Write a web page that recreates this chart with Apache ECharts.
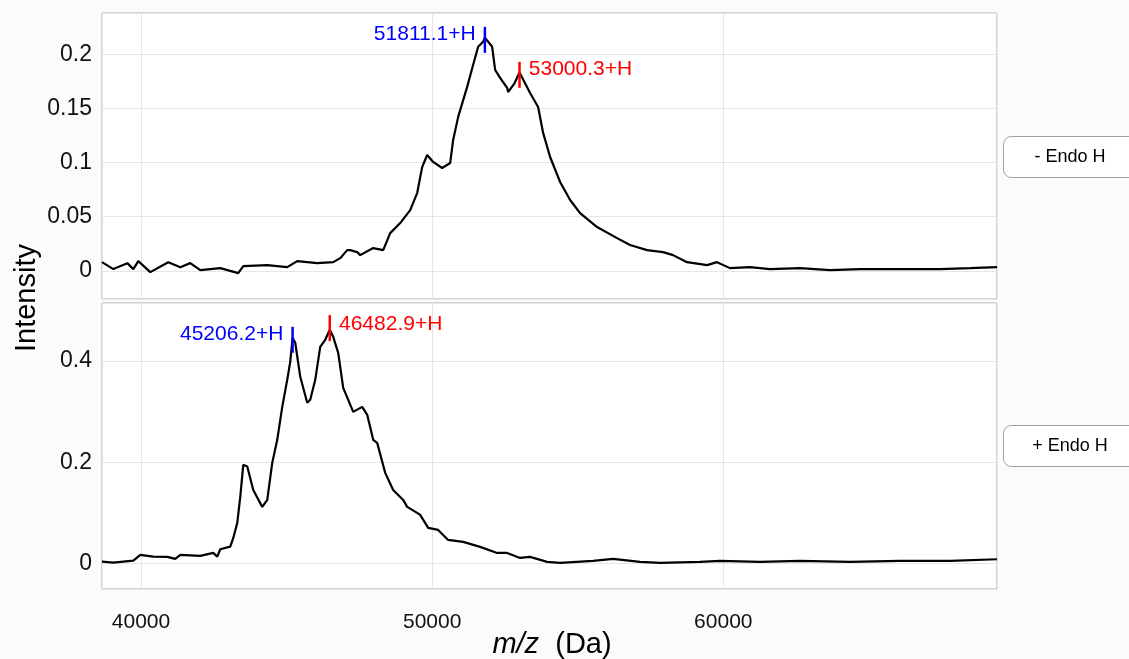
<!DOCTYPE html>
<html>
<head>
<meta charset="utf-8">
<script src="https://cdn.jsdelivr.net/npm/echarts@6/dist/echarts.min.js"></script>
<style>
html,body{margin:0;padding:0;background:#fbfbfb;}
#c{width:1129px;height:659px;}
</style>
</head>
<body>
<div id="c"></div>
<script>
// ---------- data ----------
const panelNames = ['- Endo H', '+ Endo H'];

const topMz = [38660,39049,39530,39736,39907,40319,40937,41349,41692,42036,42722,43340,43512,44336,45022,45366,46052,46601,46842,47082,47185,47425,47528,47975,48318,48558,48902,49245,49485,49657,49828,50034,50343,50618,50721,50893,51202,51408,51579,51751,51811,52060,52163,52334,52575,52609,52815,53000,53364,53639,53811,54051,54394,54738,55081,55664,56351,56797,57381,57930,58273,58754,59441,59784,60230,60917,61603,62633,63663,64693,66066,67439,68469,69400];
const topInt = [0.0080,0.0016,0.0071,0.0016,0.0090,-0.0012,0.0080,0.0034,0.0071,0.0006,0.0025,-0.0021,0.0043,0.0053,0.0034,0.0090,0.0071,0.0080,0.0117,0.0191,0.0191,0.0173,0.0145,0.0210,0.0191,0.0348,0.0441,0.0561,0.0718,0.0958,0.1069,0.1005,0.0949,0.0995,0.1208,0.1421,0.1698,0.1902,0.2068,0.2114,0.2153,0.2068,0.1855,0.1781,0.1689,0.1651,0.1725,0.1830,0.1642,0.1513,0.1273,0.1051,0.0820,0.0654,0.0533,0.0404,0.0302,0.0238,0.0191,0.0173,0.0145,0.0080,0.0053,0.0080,0.0025,0.0034,0.0016,0.0025,0.0006,0.0016,0.0016,0.0016,0.0025,0.0034];

const botMz = [38660,39049,39736,39976,40422,40903,41177,41349,42036,42482,42619,42722,43066,43169,43306,43409,43512,43649,43855,44164,44199,44336,44507,44679,44851,45022,45125,45206,45297,45469,45709,45812,45984,46155,46327,46483,46601,46773,46945,47288,47597,47769,47975,48112,48387,48661,49004,49142,49485,49588,49863,50206,50549,51064,51648,52231,52575,53021,53364,53948,54394,55527,56213,57140,57827,59200,59887,61260,62633,64350,66066,67783,69400];
const botInt = [0.0032,0.0012,0.0051,0.0164,0.0131,0.0125,0.0085,0.0164,0.0145,0.0204,0.0131,0.0277,0.0329,0.0501,0.0798,0.1313,0.1947,0.1913,0.1451,0.1115,0.1095,0.1253,0.1986,0.2442,0.3095,0.3630,0.3986,0.4462,0.4363,0.3691,0.3176,0.3236,0.3630,0.4283,0.4422,0.4620,0.4481,0.4164,0.3471,0.2996,0.3095,0.2937,0.2442,0.2382,0.1788,0.1451,0.1253,0.1115,0.0996,0.0956,0.0699,0.0659,0.0461,0.0422,0.0323,0.0204,0.0204,0.0105,0.0125,0.0026,0.0006,0.0046,0.0085,0.0026,0.0006,0.0026,0.0046,0.0026,0.0046,0.0026,0.0046,0.0046,0.0079];

// peak annotations: [m/z, tick centre intensity, label, colour]
const topPeaks = [[51811.1, 0.2132, '51811.1+H', 'blue'], [53000.3, 0.1809, '53000.3+H', 'red']];
const botPeaks = [[45206.2, 0.4422, '45206.2+H', 'blue'], [46482.9, 0.4653, '46482.9+H', 'red']];

const xTicks = [40000, 50000, 60000];
const topTicks = [0, 0.05, 0.1, 0.15, 0.2];
const botTicks = [0, 0.2, 0.4];

// ---------- chart ----------
const FONT = 'Liberation Sans, Arial, Helvetica, sans-serif';
const BLUE = '#0000ff', RED = '#ff0000';
function zip(a, b) { return a.map((v, i) => [v, b[i]]); }
function tickFmt(list) {
  return v => list.some(t => Math.abs(t - v) < 1e-9) ? String(v) : '';
}
function peakSeries(peaks, gi, color, side, offY) {
  const p = peaks.filter(q => q[3] === color);
  const c = color === 'blue' ? BLUE : RED;
  return {
    type: 'scatter', xAxisIndex: gi, yAxisIndex: gi,
    symbol: 'rect', symbolSize: [2.5, 26], z: 5,
    itemStyle: { color: c, opacity: 1 },
    data: p.map(q => ({ value: [q[0], q[1]], name: q[2] })),
    label: {
      show: true, formatter: d => d.name, position: side, distance: 8,
      offset: [0, offY], color: c, fontSize: 21, fontFamily: FONT,
      textBorderWidth: 0
    },
    silent: true
  };
}
const gridCommon = { left: 102, width: 895, height: 286, show: true, backgroundColor: '#ffffff', borderColor: '#ababab', borderWidth: 1 };
const splitStyle = { show: true, lineStyle: { color: '#e6e6e6', width: 1 } };
function xAxis(gi, showLabel) {
  return {
    type: 'value', gridIndex: gi, min: 38660, max: 69400, splitNumber: 3,
    axisLine: { show: false }, axisTick: { show: false }, splitLine: splitStyle,
    axisLabel: { show: showLabel, formatter: tickFmt(xTicks), fontSize: 21, color: '#111', fontFamily: FONT, margin: 23 }
  };
}
function yAxis(gi, min, max, split, ticks) {
  return {
    type: 'value', gridIndex: gi, min: min, max: max, splitNumber: split,
    axisLine: { show: false }, axisTick: { show: false }, splitLine: splitStyle,
    axisLabel: { formatter: tickFmt(ticks), fontSize: 23, color: '#111', fontFamily: FONT, margin: 10 }
  };
}
const chart = echarts.init(document.getElementById('c'), null, { renderer: 'canvas' });
chart.setOption({
  backgroundColor: '#fbfbfb',
  animation: false,
  grid: [Object.assign({ top: 13 }, gridCommon), Object.assign({ top: 303 }, gridCommon)],
  xAxis: [xAxis(0, false), xAxis(1, true)],
  yAxis: [yAxis(0, -0.026, 0.238, 5, topTicks), yAxis(1, -0.051, 0.515, 3, botTicks)],
  series: [
    { type: 'line', xAxisIndex: 0, yAxisIndex: 0, data: zip(topMz, topInt), showSymbol: false, lineStyle: { color: '#000', width: 2.2 }, silent: true },
    { type: 'line', xAxisIndex: 1, yAxisIndex: 1, data: zip(botMz, botInt), showSymbol: false, lineStyle: { color: '#000', width: 2.2 }, silent: true },
    peakSeries(topPeaks, 0, 'blue', 'left', -6),
    peakSeries(topPeaks, 0, 'red', 'right', -6),
    peakSeries(botPeaks, 1, 'blue', 'left', -6),
    peakSeries(botPeaks, 1, 'red', 'right', -4)
  ],
  graphic: [
    { type: 'text', x: 27, y: 298, rotation: Math.PI / 2,
      style: { text: 'Intensity', fontSize: 29, fontFamily: FONT, fill: '#000', align: 'center', verticalAlign: 'middle' } },
    { type: 'text', x: 552, y: 645,
      style: { text: '{i|m/z}  (Da)', fontSize: 29, fontFamily: FONT, fill: '#000', align: 'center', verticalAlign: 'middle',
        rich: { i: { fontStyle: 'italic', fontSize: 29, fontFamily: FONT } } } },
    { type: 'rect', shape: { x: 1003.5, y: 136.5, width: 150, height: 41, r: 8 }, style: { fill: '#ffffff', stroke: '#a0a0a0', lineWidth: 1 } },
    { type: 'text', x: 1070, y: 157, style: { text: panelNames[0], fontSize: 18, fontFamily: FONT, fill: '#000', align: 'center', verticalAlign: 'middle' } },
    { type: 'rect', shape: { x: 1003.5, y: 425.5, width: 150, height: 41, r: 8 }, style: { fill: '#ffffff', stroke: '#a0a0a0', lineWidth: 1 } },
    { type: 'text', x: 1070, y: 446, style: { text: panelNames[1], fontSize: 18, fontFamily: FONT, fill: '#000', align: 'center', verticalAlign: 'middle' } }
  ]
});
</script>
</body>
</html>
